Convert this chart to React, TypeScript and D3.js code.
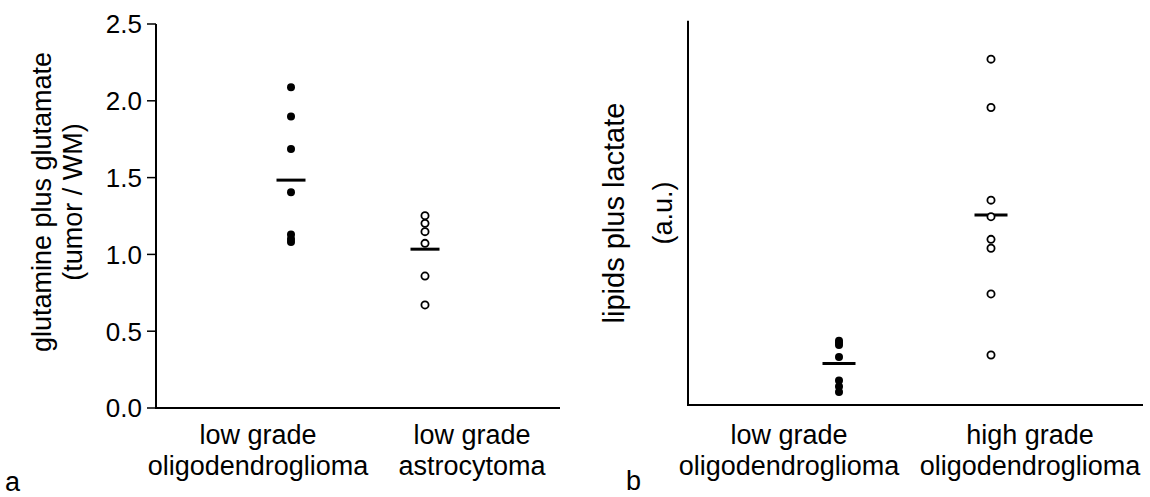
import React from "react";
import * as d3 from "d3";

// Panel a: glutamine plus glutamate (tumor / WM)
const groupsA = ["low grade|oligodendroglioma", "low grade|astrocytoma"];
const oligoGlx = [2.088, 1.897, 1.686, 1.404, 1.13, 1.1, 1.08];
const astroGlx = [1.252, 1.202, 1.148, 1.072, 0.859, 0.671];
const ticksA = [0, 0.5, 1.0, 1.5, 2.0, 2.5];

// Panel b: lipids plus lactate (a.u.)
const groupsB = ["low grade|oligodendroglioma", "high grade|oligodendroglioma"];
const lowGradeLipids = [1.673, 1.618, 1.561, 1.249, 0.638, 0.481, 0.338];
const highGradeLipids = [9.0, 7.74, 5.33, 4.9, 4.31, 4.08, 2.89, 1.3];

const FONT = "'Liberation Sans', Arial, Helvetica, sans-serif";

export default function App() {
  // scales, panel a
  const yA = d3.scaleLinear().domain([0, 2.5]).range([408, 24]);
  const xA = d3.scalePoint<string>().domain(groupsA).range([291, 425]);
  const labelXA = d3.scalePoint<string>().domain(groupsA).range([258, 472]);
  // scales, panel b
  const yB = d3.scaleLinear().domain([0, 10]).range([405, 20.7]);
  const xB = d3.scalePoint<string>().domain(groupsB).range([839, 991]);
  const labelXB = d3.scalePoint<string>().domain(groupsB).range([789, 1030]);

  const seriesA = [
    { g: groupsA[0], vals: oligoGlx, filled: true },
    { g: groupsA[1], vals: astroGlx, filled: false },
  ];
  const seriesB = [
    { g: groupsB[0], vals: lowGradeLipids, filled: true },
    { g: groupsB[1], vals: highGradeLipids, filled: false },
  ];

  const r = 4;

  const catLabel = (key: string, x: number, i: number) => {
    const [l1, l2] = key.split("|");
    return (
      <g key={"lab" + i} fontSize={27} fontFamily={FONT} textAnchor="middle" fill="#000">
        <text x={x} y={444}>{l1}</text>
        <text x={x} y={475}>{l2}</text>
      </g>
    );
  };

  const dot = (cx: number, cy: number, filled: boolean, i: number) => (
    <circle
      key={i}
      cx={cx}
      cy={cy}
      r={filled ? r : r - 0.4}
      fill={filled ? "#000" : "#fff"}
      stroke="#000"
      strokeWidth={filled ? 0 : 1.8}
    />
  );

  return (
    <svg
      width={1150}
      height={497}
      style={{ position: "absolute", left: 0, top: 0, background: "#fff" }}
    >
      <rect width={1150} height={497} fill="#fff" />

      {/* ---------- panel a ---------- */}
      <g>
        <line x1={156} x2={156} y1={yA(2.5)} y2={yA(0)} stroke="#000" strokeWidth={2} />
        <line x1={155} x2={560} y1={yA(0)} y2={yA(0)} stroke="#000" strokeWidth={2} />
        {ticksA.map((t) => (
          <g key={"t" + t}>
            <line x1={147} x2={156} y1={yA(t)} y2={yA(t)} stroke="#000" strokeWidth={1.5} />
            <text
              x={142}
              y={yA(t)}
              dy="0.36em"
              textAnchor="end"
              fontSize={26}
              fontFamily={FONT}
              fill="#000"
            >
              {d3.format(".1f")(t)}
            </text>
          </g>
        ))}
        <g transform="translate(41.5,202) rotate(-90)" fontSize={27} fontFamily={FONT} textAnchor="middle">
          <text x={0} y={0} dy="0.35em">glutamine plus glutamate</text>
          <text x={0} y={31.5} dy="0.35em">(tumor / WM)</text>
        </g>
        {seriesA.map((s, si) => {
          const cx = xA(s.g)!;
          const m = d3.mean(s.vals)!;
          return (
            <g key={"sa" + si}>
              {s.vals.map((v, i) => dot(cx, yA(v), s.filled, i))}
              <line x1={cx - 14.5} x2={cx + 14.5} y1={yA(m)} y2={yA(m)} stroke="#000" strokeWidth={3} />
            </g>
          );
        })}
        {groupsA.map((g, i) => catLabel(g, labelXA(g)!, i))}
        <text x={5} y={491} fontSize={27} fontFamily={FONT}>a</text>
      </g>

      {/* ---------- panel b ---------- */}
      <g>
        <line x1={688} x2={688} y1={yB(10)} y2={yB(0)} stroke="#000" strokeWidth={2} />
        <line x1={687} x2={1143} y1={yB(0)} y2={yB(0)} stroke="#000" strokeWidth={2} />
        <g transform="translate(614,213) rotate(-90)" fontFamily={FONT} textAnchor="middle">
          <text x={0} y={0} dy="0.35em" fontSize={29}>lipids plus lactate</text>
          <text x={0} y={49} dy="0.35em" fontSize={27}>(a.u.)</text>
        </g>
        {seriesB.map((s, si) => {
          const cx = xB(s.g)!;
          const m = d3.mean(s.vals)!;
          return (
            <g key={"sb" + si}>
              <line x1={cx - 16.5} x2={cx + 16.5} y1={yB(m)} y2={yB(m)} stroke="#000" strokeWidth={3} />
              {s.vals.map((v, i) => dot(cx, yB(v), s.filled, i))}
            </g>
          );
        })}
        {groupsB.map((g, i) => catLabel(g, labelXB(g)!, i))}
        <text x={626} y={490} fontSize={27} fontFamily={FONT}>b</text>
      </g>
    </svg>
  );
}
